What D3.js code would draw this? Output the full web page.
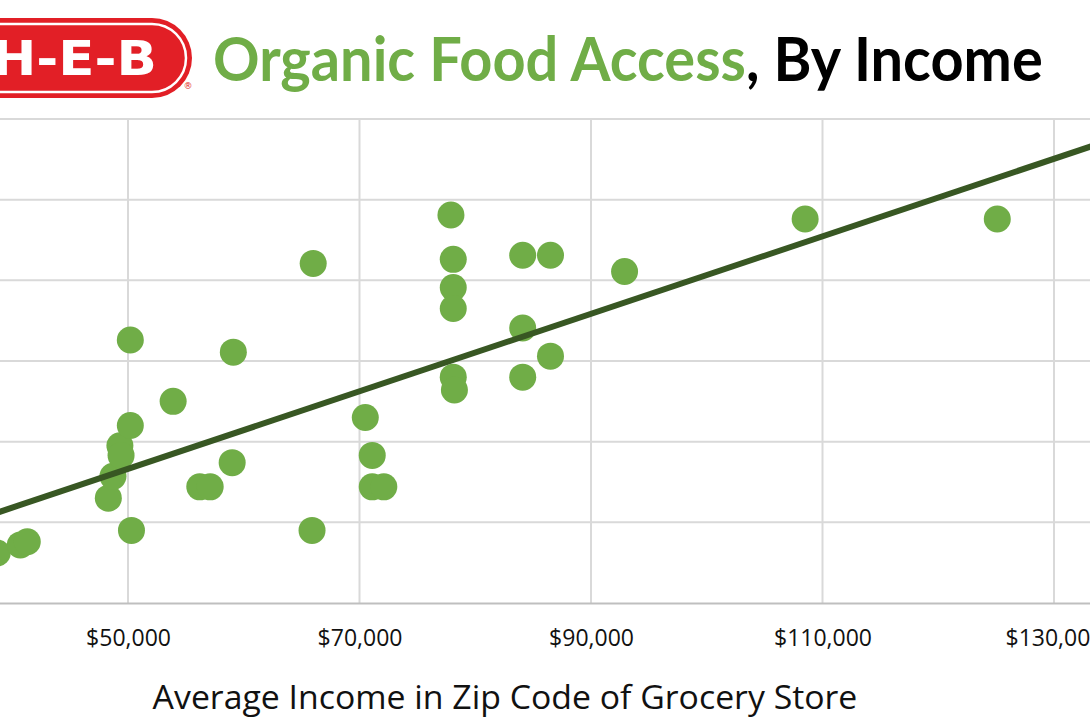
<!DOCTYPE html>
<html>
<head>
<meta charset="utf-8">
<script src="https://cdn.jsdelivr.net/npm/d3@7"></script>
<style>
  html, body { margin: 0; padding: 0; background: #ffffff; }
  svg { display: block; }
</style>
</head>
<body>
<svg id="chart" width="1090" height="727"></svg>
<script>
// ---------------- data ----------------
const incomes = [38700, 40700, 41300, 48300, 48700, 49300, 49400, 50200, 50200, 50300,
  53900, 56200, 57100, 59000, 59100, 65900, 66000, 70500, 71100, 71100, 72100,
  77900, 78100, 78100, 78100, 78100, 78200, 84100, 84100, 84100, 86500, 86500,
  92900, 108500, 125100];
const organicAccess = [6.2, 7.2, 7.6, 13.0, 15.7, 19.5, 18.3, 32.6, 22.0, 9.0,
  25.0, 14.4, 14.4, 17.4, 31.1, 9.0, 42.1, 23.0, 18.3, 14.4, 14.4,
  48.1, 42.6, 39.1, 36.5, 28.0, 26.4, 43.1, 34.1, 28.0, 43.1, 30.6,
  41.1, 47.6, 47.6];
const trendIncome = [30000, 140000];
const trendValue = [7.02, 59.87];
const xTickValues = [30000, 50000, 70000, 90000, 110000, 130000];
const yTickValues = [0, 10, 20, 30, 40, 50, 60];
const titleGreen = "Organic Food Access";
const titleBlack = ", By Income";
const xAxisTitle = "Average Income in Zip Code of Grocery Store";
const logoText = "H-E-B";

// ---------------- layout ----------------
const svg = d3.select("#chart");
const x = d3.scaleLinear().domain([30000, 140000]).range([-103.5, 1169.75]);
const y = d3.scaleLinear().domain([0, 60]).range([603, 119]);
const [x0, x1] = x.range();
const [yb, yt] = y.range();

const green = "#70ad47";
const dark = "#385723";

svg.append("defs").append("clipPath").attr("id", "plotclip")
  .append("rect").attr("x", x0).attr("y", yt - 2).attr("width", x1 - x0).attr("height", yb - yt + 4);

// grid
const grid = svg.append("g");
grid.selectAll("line.h").data(yTickValues.filter(v => v > 0)).enter().append("line")
  .attr("x1", x0).attr("x2", x1)
  .attr("y1", d => y(d)).attr("y2", d => y(d))
  .attr("stroke", "#d9d9d9").attr("stroke-width", 2);
grid.selectAll("line.v").data(xTickValues).enter().append("line")
  .attr("x1", d => x(d)).attr("x2", d => x(d))
  .attr("y1", yt).attr("y2", yb)
  .attr("stroke", "#d9d9d9").attr("stroke-width", 2);

// x axis
const xAxis = svg.append("g").attr("transform", `translate(0,${yb})`)
  .call(d3.axisBottom(x).tickValues(xTickValues).tickFormat(d3.format("$,")).tickSize(0).tickPadding(27));
xAxis.select(".domain").attr("stroke", "#bfbfbf").attr("stroke-width", 2);
xAxis.selectAll("text").attr("font-family", "'Open Sans', sans-serif").attr("font-size", 23)
  .attr("fill", "#111");

// y axis (sits off the cropped left edge)
const yAxis = svg.append("g").attr("transform", `translate(${x0},0)`)
  .call(d3.axisLeft(y).tickValues(yTickValues).tickSize(0).tickPadding(10));
yAxis.select(".domain").remove();
yAxis.selectAll("text").attr("font-family", "'Open Sans', sans-serif").attr("font-size", 23).attr("fill", "#111");

// points
const pts = incomes.map((v, i) => ({ income: v, value: organicAccess[i] }));
svg.append("g").attr("clip-path", "url(#plotclip)")
  .selectAll("circle").data(pts).enter().append("circle")
  .attr("cx", d => x(d.income))
  .attr("cy", d => y(d.value))
  .attr("r", 13.5)
  .attr("fill", green);

// trend line
const trend = trendIncome.map((v, i) => [v, trendValue[i]]);
svg.append("g").attr("clip-path", "url(#plotclip)")
  .append("path").datum(trend)
  .attr("d", d3.line().x(d => x(d[0])).y(d => y(d[1])))
  .attr("fill", "none").attr("stroke", dark).attr("stroke-width", 6);

// x axis title
const xt = svg.append("text").attr("x", 505).attr("y", 709).attr("text-anchor", "middle")
  .attr("font-family", "'Open Sans', sans-serif").attr("font-size", 32).attr("fill", "#111")
  .text(xAxisTitle);
{
  const w = xt.node().getComputedTextLength();
  const s = 705 / w;
  xt.attr("transform", `translate(505,0) scale(${s},1) translate(-505,0)`);
}

// title
const title = svg.append("text").attr("x", 213).attr("y", 81)
  .attr("font-family", "Lato, 'Open Sans', sans-serif").attr("font-weight", 700).attr("font-size", 61);
title.append("tspan").attr("fill", green).text(titleGreen);
title.append("tspan").attr("fill", "#000").text(titleBlack);
{
  const w = title.node().getComputedTextLength();
  const s = 830 / w;
  title.attr("transform", `translate(213,0) scale(${s},1) translate(-213,0)`);
}

// logo
const logo = svg.append("g");
logo.append("rect").attr("x", -80).attr("y", 18).attr("width", 272).attr("height", 80).attr("rx", 40)
  .attr("fill", "#e21f26");
logo.append("rect").attr("x", -74).attr("y", 24).attr("width", 260).attr("height", 68).attr("rx", 34)
  .attr("fill", "none").attr("stroke", "#ffffff").attr("stroke-width", 2.5);
const lt = logo.append("text").attr("x", -8).attr("y", 75)
  .attr("font-family", "'DejaVu Sans', sans-serif").attr("font-weight", 700).attr("font-size", 48)
  .attr("fill", "#ffffff").text(logoText);
{
  const w = lt.node().getComputedTextLength();
  const s = 165 / w;
  lt.attr("transform", `translate(-8,0) scale(${s},1) translate(8,0)`);
}
logo.append("text").attr("x", 188).attr("y", 89).attr("text-anchor", "middle")
  .attr("font-family", "'DejaVu Sans', sans-serif").attr("font-size", 9).attr("fill", "#e21f26").text("®");
</script>
</body>
</html>
